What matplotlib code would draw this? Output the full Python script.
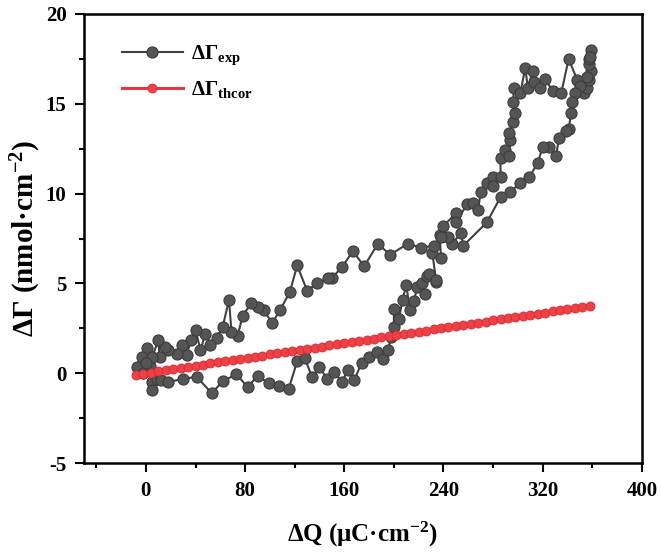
import matplotlib.pyplot as plt
from matplotlib.ticker import MultipleLocator

plt.rcParams['font.family'] = ['Liberation Serif', 'DejaVu Serif']
plt.rcParams['font.weight'] = 'bold'
plt.rcParams['mathtext.fontset'] = 'custom'
plt.rcParams['mathtext.rm'] = 'Liberation Serif:bold'
plt.rcParams['mathtext.it'] = 'Liberation Serif:bold'
plt.rcParams['mathtext.bf'] = 'Liberation Serif:bold'
plt.rcParams['axes.unicode_minus'] = False

q_exp = [0.8, -3, -7, -2, 3, 5, 9, 5, 12, 18, 30, 41, 53, 62, 73, 82, 90, 99, 107, 115,
         122, 128, 134, 140, 146, 152, 158, 163, 168, 174, 180, 186, 191, 195, 198, 200,
         200, 204, 207, 210, 213, 216, 219, 225, 223, 227, 234, 228, 234, 231, 238, 237,
         240, 250, 250, 259, 264, 268, 270, 275, 280, 280, 286, 286, 290, 293, 294, 293,
         296, 298, 296, 297, 302, 306, 308, 312, 313, 318, 322, 328, 335, 341, 348, 353,
         356, 357, 359, 357, 357, 359, 358, 356, 350, 346, 344, 343, 341, 339, 333, 331,
         325, 320, 316, 309, 302, 294, 286, 275, 256, 254, 247, 244, 238, 232, 222, 211,
         197, 187, 176, 167, 158, 150, 147, 138, 130, 122, 116, 108, 102, 95, 90, 85, 78,
         74, 69, 67, 62, 57, 52, 48, 44, 40, 36, 33, 29, 25, 18, 15, 11, 10, 5, 0]
g_exp = [1.4, 0.9, 0.35, 0.0, 0.4, -0.5, -0.3, -0.95, -0.4, -0.5, -0.3, -0.2, -1.1, -0.45,
         -0.05, -0.77, -0.15, -0.55, -0.7, -0.9, 0.67, 0.85, -0.2, 0.35, -0.3, 0.1, -0.5,
         0.2, -0.4, 0.6, 0.9, 1.2, 0.8, 1.3, 2.0, 2.6, 3.6, 3.0, 4.1, 4.9, 3.5, 4.0, 4.8,
         4.4, 5.0, 5.4, 5.1, 5.5, 5.2, 6.7, 6.4, 7.7, 8.2, 8.9, 8.4, 9.4, 9.5, 9.1, 10.1,
         10.6, 10.9, 10.4, 10.9, 12.0, 12.4, 12.1, 13.0, 13.4, 14.0, 14.5, 15.1, 15.9,
         15.6, 17.0, 15.9, 16.8, 16.2, 15.9, 16.4, 15.7, 15.6, 17.5, 16.3, 15.6, 15.9,
         16.3, 16.8, 17.2, 17.5, 18.0, 17.6, 16.5, 16.0, 15.6, 15.1, 14.5, 13.6, 13.5,
         13.1, 12.1, 12.6, 12.6, 11.7, 10.9, 10.6, 10.1, 9.8, 8.4, 7.1, 7.8, 7.2, 7.6,
         7.6, 7.1, 7.0, 7.2, 6.6, 7.2, 5.95, 6.8, 5.9, 5.3, 5.3, 5.0, 4.6, 6.0, 4.5, 3.5,
         2.8, 3.5, 3.7, 3.9, 3.2, 2.1, 2.3, 4.1, 2.6, 1.95, 1.6, 2.2, 1.3, 2.4, 1.85, 1.0,
         1.6, 1.1, 1.3, 1.45, 0.9, 1.85, 0.9, 0.6]

# theoretical line
q_th = [-8, -2, 4, 10, 16, 22, 28, 34, 40, 46, 52, 58, 64, 70, 76, 82, 88, 94, 100, 106,
        112, 118, 124, 130, 136, 142, 148, 154, 160, 166, 172, 178, 184, 190, 196, 202,
        208, 214, 220, 226, 232, 238, 244, 250, 256, 262, 268, 274, 280, 286, 292, 298,
        304, 310, 316, 322, 328, 334, 340, 346, 352, 358]
g_th = [-0.08, -0.02, 0.04, 0.11, 0.17, 0.23, 0.29, 0.36, 0.42, 0.48, 0.55, 0.61, 0.67,
        0.74, 0.80, 0.86, 0.92, 0.99, 1.05, 1.11, 1.18, 1.24, 1.30, 1.37, 1.43, 1.49,
        1.55, 1.62, 1.68, 1.74, 1.81, 1.87, 1.93, 2.00, 2.06, 2.12, 2.18, 2.25, 2.31,
        2.37, 2.44, 2.50, 2.56, 2.63, 2.69, 2.75, 2.81, 2.88, 2.94, 3.00, 3.07, 3.13,
        3.19, 3.26, 3.32, 3.38, 3.44, 3.51, 3.57, 3.63, 3.70, 3.76]

fig = plt.figure(figsize=(6.61, 5.56), dpi=100)
ax = fig.add_axes([0.127, 0.167, 0.844, 0.808])

ax.plot(q_exp, g_exp, '-o', color='#404040', lw=1.5, ms=8,
        mfc='#555555', mec='#3c3c3c', mew=0.8, label=r'$\Delta\Gamma_{exp}$')
ax.plot(q_th, g_th, '-o', color='#e8383d', lw=2.2, ms=6.5,
        mfc='#ec4146', mec='#d9292f', mew=0.6, label=r'$\Delta\Gamma_{thcor}$')

ax.set_xlim(-50, 400)
ax.set_ylim(-5, 20)
ax.xaxis.set_major_locator(MultipleLocator(80))
ax.xaxis.set_minor_locator(MultipleLocator(40))
ax.yaxis.set_major_locator(MultipleLocator(5))
ax.yaxis.set_minor_locator(MultipleLocator(2.5))
ax.tick_params(which='both', direction='out', width=1.5, labelsize=15, top=False, right=False)
ax.tick_params(which='major', length=6.5, pad=6)
ax.tick_params(which='minor', length=3.5)
for s in ax.spines.values():
    s.set_linewidth(1.8)

ax.set_xlabel(r'ΔQ (μC·cm$^{-2}$)', fontsize=18, fontweight='bold', labelpad=14)
ax.set_ylabel(r'ΔΓ (nmol·cm$^{-2}$)', fontsize=21, fontweight='bold', labelpad=2)

ax.legend(loc='upper left', bbox_to_anchor=(0.035, 0.975), frameon=False, fontsize=15,
          handlelength=2.9, numpoints=1, labelspacing=0.55, handletextpad=0.4)

fig.savefig('out.png', dpi=100)
